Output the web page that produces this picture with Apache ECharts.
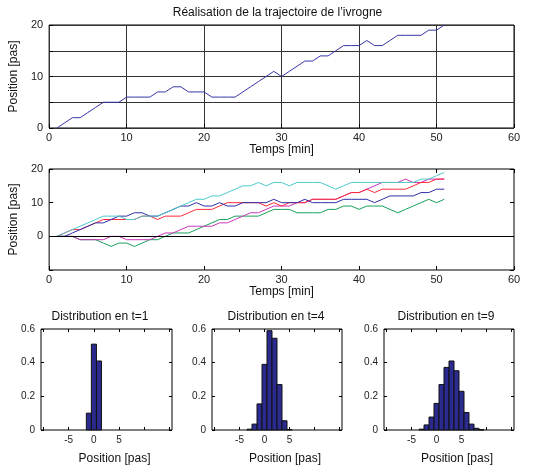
<!DOCTYPE html>
<html style="height: 100%;margin: 0;padding: 0;">
<head>
<meta charset="utf-8">
<title>Trajectoire de l'ivrogne</title>
<script src="https://cdn.jsdelivr.net/npm/echarts@6/dist/echarts.min.js"></script>
</head>
<body style="margin:0;padding:0;background:#fff;">
<div id="main" style="width:544px;height:466px;"></div>
<script type="text/javascript">
// temps [min]
var temps = [1,2,3,4,5,6,7,8,9,10,11,12,13,14,15,16,17,18,19,20,21,22,23,24,25,26,27,28,29,30,
             31,32,33,34,35,36,37,38,39,40,41,42,43,44,45,46,47,48,49,50,51];
// trajectoire unique (haut)
var trajectoire = [0,1,2,2,3,4,5,5,5,6, 6,6,6,7,7,8,8,7,7,7, 6,6,6,6,7,8,9,10,11,10,
                   11,12,13,13,14,14,15,16,16,16, 17,16,16,17,18,18,18,18,19,19,20];
// cinq trajectoires (milieu)
var trajBleu    = [0,0,1,2,3,4,4,5,6,6, 7,7,6,6,7,8,9,9,10,9, 9,10,9,9,10,10,10,10,11,10,
                   10,10,11,10,10,10,10,11,11,11, 11,10,11,12,12,12,12,13,13,14,14];
var trajRouge   = [0,1,2,2,3,4,5,5,5,5, 5,6,6,5,6,6,6,7,8,8, 8,9,10,10,10,10,10,9,10,9,
                   10,10,10,11,11,11,11,12,13,13, 14,13,14,14,14,14,15,16,16,17,17];
var trajCyan    = [0,1,2,3,4,5,6,6,6,5, 5,6,6,6,7,8,9,10,11,11, 12,12,13,14,15,15,16,15,16,16,
                   15,16,16,16,16,15,14,15,16,16, 16,16,16,16,16,16,16,17,17,18,19];
var trajMagenta = [0,0,0,-1,-1,-1,-1,0,0,-1, -1,-1,-1,0,1,1,2,3,3,3, 3,4,4,5,6,7,7,8,9,9,
                   9,10,10,11,11,11,11,12,13,13, 14,15,16,16,16,17,16,16,17,17,17];
var trajVert    = [0,0,0,-1,-1,-1,-2,-3,-2,-2, -3,-2,-1,-1,0,1,1,1,2,3, 4,5,5,6,6,6,6,7,8,8,
                   8,7,7,7,7,8,8,9,9,8, 9,9,9,8,7,8,9,10,11,10,11];
// distributions (bas)
var posT1 = [-1,0,1];
var freqT1 = [0.10,0.51,0.41];
var posT4 = [-3,-2,-1,0,1,2,3,4,5];
var freqT4 = [0.005,0.035,0.155,0.39,0.59,0.545,0.27,0.055,0.003];
var posT9 = [-3,-2,-1,0,1,2,3,4,5,6,7,8,9];
var freqT9 = [0.005,0.03,0.077,0.158,0.27,0.372,0.41,0.352,0.23,0.104,0.035,0.01,0.002];

var police = "'Liberation Sans', Arial, sans-serif";

function paires(xs, ys) {
    var out = [];
    for (var i = 0; i < xs.length; i++) out.push([xs[i], ys[i]]);
    return out;
}

function barreHist(params, api) {
    var x = api.value(0), y = api.value(1);
    var p0 = api.coord([x - 0.5, y]);
    var p1 = api.coord([x + 0.5, 0]);
    return {
        type: 'rect',
        shape: { x: p0[0], y: p0[1], width: p1[0] - p0[0], height: p1[1] - p0[1] },
        style: { fill: '#2b2b8f', stroke: '#111', lineWidth: 1 }
    };
}

var grids = [
    { left: 41, top: 25, width: 473, height: 103 },
    { left: 41, top: 169, width: 473, height: 101 },
    { left: 41, top: 329, width: 131, height: 102 },
    { left: 212, top: 329, width: 130, height: 102 },
    { left: 384, top: 329, width: 130, height: 102 }
];
grids.forEach(function (g) { g.show = true; g.borderColor = '#000'; g.borderWidth = 1; g.containLabel = false; });

var labelTxt = { color: '#222', fontFamily: police, fontSize: 11 };
var nameTxt = { color: '#111', fontFamily: police, fontSize: 12 };
var sansLigne = { show: false, onZero: false };
var tickIn = { inside: true, length: 4, lineStyle: { color: '#000' } };

var xAxes = [], yAxes = [];
// haut
xAxes.push({ type: 'value', gridIndex: 0, min: 0, max: 60, interval: 10,
    name: 'Temps [min]', nameLocation: 'middle', nameGap: 11, nameTextStyle: nameTxt,
    axisLine: sansLigne, axisTick: tickIn,
    axisLabel: Object.assign({ margin: 4 }, labelTxt),
    splitLine: { show: true, lineStyle: { color: '#333', width: 1 } } });
yAxes.push({ type: 'value', gridIndex: 0, min: 0, max: 20, interval: 5,
    name: 'Position [pas]', nameLocation: 'middle', nameGap: 22, nameTextStyle: nameTxt,
    axisLine: sansLigne, axisTick: tickIn,
    axisLabel: Object.assign({ margin: 6, formatter: function (v) { return v % 10 === 0 ? v : ''; } }, labelTxt),
    splitLine: { show: true, lineStyle: { color: '#333', width: 1 } } });
// milieu
xAxes.push({ type: 'value', gridIndex: 1, min: 0, max: 60, interval: 10,
    name: 'Temps [min]', nameLocation: 'middle', nameGap: 16, nameTextStyle: nameTxt,
    axisLine: sansLigne, axisTick: tickIn,
    axisLabel: Object.assign({ margin: 4 }, labelTxt), splitLine: { show: false } });
xAxes.push({ type: 'value', gridIndex: 1, position: 'top', min: 0, max: 60, interval: 10,
    axisLine: sansLigne, axisTick: tickIn,
    axisLabel: { show: false }, splitLine: { show: false } });
yAxes.push({ type: 'value', gridIndex: 1, min: -10, max: 20, interval: 10,
    name: 'Position [pas]', nameLocation: 'middle', nameGap: 22, nameTextStyle: nameTxt,
    axisLine: sansLigne, axisTick: tickIn,
    axisLabel: Object.assign({ margin: 6, formatter: function (v) { return v < 0 ? '' : v; } }, labelTxt),
    splitLine: { show: false } });
yAxes.push({ type: 'value', gridIndex: 1, position: 'right', min: -10, max: 20, interval: 10,
    axisLine: sansLigne, axisTick: tickIn,
    axisLabel: { show: false }, splitLine: { show: false } });

// histogrammes
var histTitres = ['Distribution en t=1', 'Distribution en t=4', 'Distribution en t=9'];
var tickHist = { inside: true, length: 3, customValues: [-10, -5, 0, 5, 10, 15], lineStyle: { color: '#000' } };
for (var k = 0; k < 3; k++) {
    var gi = k + 2;
    xAxes.push({ type: 'value', gridIndex: gi, min: -10.5, max: 15.5,
        name: 'Position [pas]', nameLocation: 'middle', nameGap: 23,
        nameTextStyle: Object.assign({ padding: [0, 0, 0, 16] }, nameTxt),
        axisLine: sansLigne, axisTick: tickHist,
        axisLabel: { margin: 5, customValues: [-5, 0, 5], color: '#222', fontFamily: police, fontSize: 10 },
        splitLine: { show: false } });
    xAxes.push({ type: 'value', gridIndex: gi, position: 'top', min: -10.5, max: 15.5,
        axisLine: sansLigne, axisTick: tickHist,
        axisLabel: { show: false }, splitLine: { show: false } });
    yAxes.push({ type: 'value', gridIndex: gi, min: 0, max: 0.6, interval: 0.2,
        axisLine: sansLigne, axisTick: { inside: true, length: 3, lineStyle: { color: '#000' } },
        axisLabel: { margin: 6, color: '#222', fontFamily: police, fontSize: 10 },
        splitLine: { show: false } });
    yAxes.push({ type: 'value', gridIndex: gi, position: 'right', min: 0, max: 0.6, interval: 0.2,
        axisLine: sansLigne, axisTick: { inside: true, length: 3, lineStyle: { color: '#000' } },
        axisLabel: { show: false }, splitLine: { show: false } });
}

function ligne(xi, yi, donnees, couleur) {
    return { type: 'line', xAxisIndex: xi, yAxisIndex: yi, data: paires(temps, donnees),
        showSymbol: false, symbol: 'none', animation: false,
        lineStyle: { color: couleur, width: 1 }, z: 3 };
}

var series = [
    ligne(0, 0, trajectoire, '#3535a5'),
    ligne(1, 1, trajVert, '#17a05a'),
    ligne(1, 1, trajMagenta, '#c936b8'),
    ligne(1, 1, trajRouge, '#ff2a3a'),
    ligne(1, 1, trajBleu, '#2f2fa8'),
    ligne(1, 1, trajCyan, '#4ccaca')
];
// ligne du zéro (milieu)
series[1].markLine = { silent: true, symbol: 'none', label: { show: false },
    lineStyle: { color: '#000', width: 1, type: 'solid' }, data: [{ yAxis: 0 }] };

var histPos = [posT1, posT4, posT9], histFreq = [freqT1, freqT4, freqT9];
for (var h = 0; h < 3; h++) {
    series.push({ type: 'custom', coordinateSystem: 'cartesian2d',
        xAxisIndex: 3 + h * 2, yAxisIndex: 3 + h * 2,
        renderItem: barreHist, encode: { x: 0, y: 1 }, animation: false, z: 4,
        data: paires(histPos[h], histFreq[h]) });
}

var titres = [
    { txt: "Réalisation de la trajectoire de l’ivrogne", x: 277.5, y: 13 },
    { txt: histTitres[0], x: 100, y: 317 },
    { txt: histTitres[1], x: 276, y: 317 },
    { txt: histTitres[2], x: 446, y: 317 }
];

var myChart = echarts.init(document.getElementById('main'), null, { renderer: 'canvas' });
var option = {
    backgroundColor: '#fff',
    animation: false,
    grid: grids,
    xAxis: xAxes,
    yAxis: yAxes,
    series: series,
    graphic: titres.map(function (t) {
        return { type: 'text', x: t.x, y: t.y,
            style: { text: t.txt, fill: '#111', font: '12px ' + police, textAlign: 'center', textVerticalAlign: 'middle' } };
    })
};
myChart.setOption(option);
</script>
</body>
</html>
